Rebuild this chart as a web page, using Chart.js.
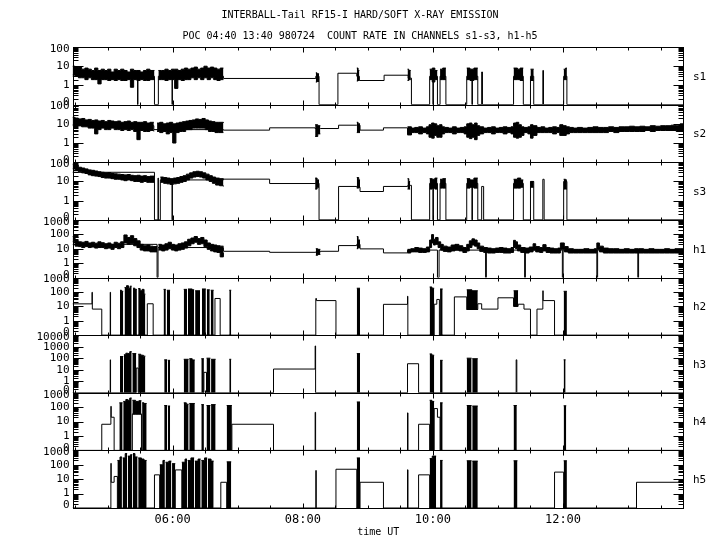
<!DOCTYPE html>
<html>
<head>
<meta charset="utf-8">
<script src="https://cdn.jsdelivr.net/npm/chart.js@4.4.0/dist/chart.umd.js"></script>
<style>
  html, body { margin: 0; padding: 0; background: #fff; }
  canvas { display: block; }
</style>
</head>
<body>
<canvas id="chart" width="720" height="550"></canvas>
<script>
const titleLine1 = 'INTERBALL-Tail RF15-I HARD/SOFT X-RAY EMISSION';
const titleLine2 = 'POC 04:40 13:40 980724  COUNT RATE IN CHANNELS s1-s3, h1-h5';
const xTitle = 'time UT';

const channels = ['s1', 's2', 's3', 'h1', 'h2', 'h3', 'h4', 'h5'];
const channelMax = [100, 100, 100, 1000, 1000, 10000, 1000, 1000];
const decadeTicks = [0.1, 1, 10, 100, 1000, 10000];
const decadeLabels = ['0', '1', '10', '100', '1000', '10000'];
const hourTicks = [6, 8, 10, 12];
const hourLabels = ['06:00', '08:00', '10:00', '12:00'];
const XMIN = 4.46, XMAX = 13.86;   // hours UT
const FLOOR = 0.1;                 // zero counts sit on the bottom of each log panel

// ---- s1 ----
const s1T = [4.46, 5.46, 5.466, 5.72, 5.78, 5.99, 5.996, 6.78, 8.20, 8.25, 8.54, 8.83, 8.87, 9.25, 9.62, 9.67, 9.95, 10.00, 10.008, 10.07, 10.11, 10.20, 10.52, 10.60, 10.608, 10.69, 10.75, 10.762, 11.24, 11.39, 11.50, 11.55, 11.69, 11.70, 12.01, 12.06, 13.86];
const s1V = [3, 0, 3, 0, 3, 0, 3, 2.3, 3, 0, 4.3, 3, 1.8, 3.4, 2.4, 0, 3, 0, 3, 0, 3, 0, 3, 0, 3, 0, 5, 0, 3, 0, 3, 0, 6, 0, 3, 0, 0];
const s1BandT = [4.46, 4.50, 4.55, 4.60, 4.65, 4.70, 4.75, 4.80, 4.85, 4.90, 4.95, 5.00, 5.05, 5.10, 5.15, 5.20, 5.25, 5.30, 5.35, 5.40, 5.45, 5.50, 5.55, 5.60, 5.65, 5.72, 5.75,
  5.78, 5.83, 5.88, 5.93, 5.98, 6.03, 6.08, 6.13, 6.18, 6.23, 6.28, 6.33, 6.38, 6.43, 6.48, 6.53, 6.58, 6.63, 6.68, 6.73, 6.78, 7.0,
  8.20, 8.22, 8.25, 8.3, 8.83, 8.85, 8.87, 8.9, 9.61, 9.63, 9.66, 9.7, 9.95, 9.99, 10.03, 10.07, 10.09, 10.11, 10.15, 10.20, 10.3,
  10.52, 10.57, 10.63, 10.69, 10.9, 11.24, 11.30, 11.34, 11.39, 11.45, 11.50, 11.55, 11.6, 12.01, 12.04, 12.06];
const s1Hi = [10, 8, 9, 7, 8, 7, 6, 8, 6, 7, 6, 7, 5, 7, 6, 7, 6, 5, 7, 6, 6, 5, 6, 7, 6, 6, null,
  6, 6, 7, 6, 7, 7, 6, 7, 8, 7, 8, 9, 7, 8, 10, 8, 9, 8, 7, 8, 8, null,
  4.5, 4, 4, null, 8, 6, 6, null, 7, 6, 6, null, 7, 8, 6, 6, null, 7, 8, 8, null,
  8, 7, 8, 8, null, 8, 7, 8, 8, null, 7, 7, null, 7, 8, 8];
const s1Lo = [3.5, 3, 2.5, 2.5, 2, 2.5, 2, 2, 1.2, 2, 2, 1.8, 2, 1.8, 2, 1.8, 1.8, 2, 0.8, 2, 1.8, 2, 1.8, 1.8, 2, 2, null,
  2, 2, 1.8, 2, 2, 0.7, 2, 1.8, 2, 2, 2.5, 2, 2.5, 2, 2.5, 2, 2.5, 2, 1.8, 2, 2, null,
  1.5, 1.6, 1.6, null, 1.7, 1.8, 1.8, null, 1.8, 2, 2, null, 2, 1.5, 2, 2, null, 2, 2, 2, null,
  2, 1.8, 2, 2, null, 2, 2, 1.8, 1.8, null, 1.8, 1.8, null, 2, 2, 2];

// ---- s2 ----
const s2T = [4.46, 5.71, 5.76, 6.78, 7.49, 8.19, 8.27, 8.55, 8.83, 8.88, 9.24, 9.61, 9.67, 13.86];
const s2V = [8, 5, 5, 4.7, 6.2, 5.7, 5.7, 8.5, 8.5, 4.7, 6.2, 2.7, 5, 5];
const s2BandT = [4.46, 4.50, 4.55, 4.60, 4.65, 4.70, 4.75, 4.80, 4.85, 4.90, 4.95, 5.00, 5.05, 5.10, 5.15, 5.20, 5.25, 5.30, 5.35, 5.40, 5.45, 5.50, 5.55, 5.60, 5.65, 5.71, 5.73,
  5.76, 5.80, 5.85, 5.90, 5.95, 6.00, 6.05, 6.10, 6.15, 6.20, 6.25, 6.30, 6.35, 6.40, 6.45, 6.50, 6.55, 6.60, 6.65, 6.70, 6.78, 7.0,
  8.19, 8.23, 8.27, 8.4, 8.83, 8.85, 8.88, 9.0,
  9.61, 9.67, 9.72, 9.78, 9.84, 9.90, 9.94, 9.98, 10.02, 10.06, 10.10, 10.14, 10.18, 10.24, 10.30, 10.36, 10.42, 10.48, 10.52, 10.56,
  10.60, 10.64, 10.68, 10.72, 10.78, 10.84, 10.90, 10.96, 11.02, 11.08, 11.14, 11.20, 11.24, 11.28, 11.32, 11.36, 11.40, 11.46, 11.50, 11.54,
  11.60, 11.66, 11.72, 11.78, 11.84, 11.90, 11.95, 12.00, 12.05, 12.10, 12.16, 12.22, 12.30, 12.38, 12.46, 12.54, 12.62, 12.70, 12.78, 12.86,
  12.94, 13.02, 13.10, 13.18, 13.26, 13.34, 13.42, 13.50, 13.58, 13.66, 13.74, 13.80, 13.86];
const s2Hi = [22, 20, 18, 19, 16, 17, 15, 16, 14, 15, 13, 15, 14, 13, 14, 12, 13, 14, 12, 13, 12, 12, 13, 11, 12, 12, null,
  11, 12, 10, 11, 12, 10, 11, 12, 13, 14, 15, 16, 18, 17, 19, 16, 14, 13, 12, 12, 11, null,
  9, 8, 8, null, 12, 10, 10, null,
  7, 6, 6.5, 7, 6, 7, 9, 11, 10, 8, 9, 7, 6.5, 6, 7, 6, 6.5, 7, 10, 11,
  9, 11, 8, 7, 6, 6.5, 7, 6, 6.5, 7, 6.5, 7, 11, 12, 9, 7, 6.5, 7, 9, 8,
  6.5, 7, 6, 6.5, 7, 6.5, 9, 8, 7, 6.5, 6, 6.5, 6, 6.5, 7, 6.5, 6.5, 7, 6.5, 7,
  7, 7.5, 7, 7.5, 7, 8, 7.5, 8, 8, 8.5, 8, 10, 9];
const s2Lo = [9, 8, 8, 7, 7, 6, 6, 3, 5, 6, 5, 5, 6, 5, 5, 4.5, 5, 4.5, 5, 4, 1.5, 4.5, 4, 4, 4.5, 4, null,
  4, 3.5, 4, 3, 3.5, 1.0, 3.5, 4, 4, 5, 5, 6, 6, 6, 6, 5, 4, 4, 3.5, 3.5, 3.5, null,
  2.2, 3, 3, null, 3.5, 3.5, 3.5, null,
  2.7, 3.5, 3.5, 3, 3.5, 3, 2, 1.8, 2.5, 2, 2, 3, 3.5, 3.5, 3, 3.5, 3.5, 3, 2, 1.7,
  2, 1.5, 2.5, 3, 3.5, 3.5, 3, 3.5, 3.5, 3, 3.5, 3, 2, 1.8, 2, 2.5, 3.5, 3, 1.8, 2.5,
  3.5, 3.5, 3.5, 3.5, 3, 3.5, 2.5, 2.5, 3, 3.5, 3.5, 3.5, 3.5, 3.5, 3.5, 3.5, 3.5, 4, 3.5, 4,
  4, 4, 4, 4, 4.5, 4, 4.5, 4.5, 4.5, 4.5, 4, 4, 4];

// ---- s3 ----
const s3T = [4.46, 5.72, 5.775, 5.78, 5.81, 5.99, 5.996, 6.78, 7.49, 8.19, 8.25, 8.55, 8.83, 8.88, 9.24, 9.61, 9.65, 9.67, 9.95, 10.00, 10.008, 10.07, 10.11, 10.20, 10.52, 10.60, 10.608, 10.69, 10.75, 10.78, 11.24, 11.39, 11.50, 11.55, 11.69, 11.71, 12.01, 12.06, 13.86];
const s3V = [30, 0, 15, 0, 12, 0, 12, 13.2, 7.8, 8, 0, 5.5, 5, 3.0, 5.5, 6, 6.3, 0, 8, 0, 8, 0, 8, 0, 8, 0, 8, 0, 5.5, 0, 8, 0, 10, 0, 13, 0, 10, 0, 0];
const s3BandT = [4.46, 4.50, 4.55, 4.60, 4.65, 4.70, 4.75, 4.80, 4.85, 4.90, 4.95, 5.00, 5.05, 5.10, 5.15, 5.20, 5.25, 5.30, 5.35, 5.40, 5.45, 5.50, 5.55, 5.60, 5.65, 5.72, 5.75,
  5.81, 5.86, 5.91, 5.96, 6.01, 6.06, 6.11, 6.16, 6.21, 6.26, 6.31, 6.36, 6.41, 6.46, 6.51, 6.56, 6.61, 6.66, 6.72, 6.78, 7.0,
  8.19, 8.22, 8.25, 8.4, 8.83, 8.86, 8.88, 9.0, 9.61, 9.63, 9.65, 9.8, 9.95, 9.99, 10.03, 10.07, 10.09, 10.11, 10.15, 10.20, 10.3,
  10.52, 10.57, 10.63, 10.69, 10.9, 11.24, 11.30, 11.35, 11.39, 11.45, 11.50, 11.55, 11.6, 12.01, 12.04, 12.06];
const s3Hi = [80, 70, 55, 50, 45, 40, 38, 35, 32, 30, 28, 29, 26, 25, 24, 23, 22, 23, 21, 20, 21, 19, 20, 18, 19, 18, null,
  17, 16, 15, 14, 15, 16, 18, 20, 24, 28, 32, 34, 32, 28, 24, 20, 17, 15, 14, 13, null,
  15, 12, 12, null, 16, 12, 12, null, 14, 10, 10, null, 14, 13, 15, 15, null, 13, 14, 14, null,
  14, 12, 15, 15, null, 13, 15, 12, 12, null, 10, 10, null, 13, 12, 12];
const s3Lo = [45, 40, 32, 28, 26, 22, 20, 19, 18, 16, 15, 15, 14, 13, 13, 12, 11, 12, 11, 10, 10, 9, 10, 9, 9, 9, null,
  9, 8, 7.5, 7, 7.5, 8, 9, 10, 12, 15, 17, 18, 17, 15, 12, 10, 8, 6.5, 6, 5.5, null,
  4, 5, 5, null, 4.5, 5, 5, null, 4, 4, 4, null, 4, 4.5, 4, 4, null, 4.5, 4.5, 4.5, null,
  4.5, 5, 4.5, 4.5, null, 4.5, 4.5, 5, 5, null, 5, 5, null, 4, 4, 4];

// ---- h1 ----
const h1T = [4.46, 5.76, 5.775, 6.78, 7.49, 8.20, 8.27, 8.55, 8.83, 8.88, 9.24, 9.61, 10.07, 10.095, 10.81, 10.822, 11.41, 11.422, 11.99, 12.002, 12.52, 12.532, 13.15, 13.162, 13.86];
const h1V = [20, 0, 12, 6.6, 5.6, 6, 6.6, 16.4, 20, 9.7, 5.1, 8, 0, 8, 0, 8, 0, 8, 0, 8, 0, 8, 0, 8, 8];
const h1BandT = [4.46, 4.50, 4.55, 4.60, 4.65, 4.70, 4.75, 4.80, 4.85, 4.90, 4.95, 5.00, 5.05, 5.10, 5.15, 5.20, 5.25, 5.30, 5.35, 5.40, 5.45, 5.50, 5.55, 5.60, 5.65, 5.70, 5.76, 5.77,
  5.78, 5.83, 5.88, 5.93, 5.98, 6.03, 6.08, 6.13, 6.18, 6.23, 6.28, 6.33, 6.38, 6.43, 6.48, 6.53, 6.58, 6.63, 6.68, 6.73, 6.78, 7.0,
  8.20, 8.23, 8.27, 8.4, 8.83, 8.85, 8.88, 9.0,
  9.61, 9.66, 9.72, 9.78, 9.84, 9.90, 9.95, 9.98, 10.01, 10.04, 10.08, 10.12, 10.16, 10.22, 10.28, 10.34, 10.40, 10.46, 10.52, 10.56,
  10.60, 10.64, 10.68, 10.72, 10.78, 10.84, 10.90, 10.96, 11.02, 11.08, 11.14, 11.20, 11.24, 11.27, 11.30, 11.35, 11.42, 11.48, 11.54, 11.58,
  11.64, 11.69, 11.74, 11.80, 11.86, 11.92, 11.96, 12.02, 12.08, 12.16, 12.24, 12.32, 12.40, 12.48, 12.52, 12.56, 12.62, 12.70, 12.78, 12.86,
  12.94, 13.02, 13.10, 13.16, 13.24, 13.32, 13.40, 13.48, 13.56, 13.64, 13.72, 13.80, 13.86];
const h1Hi = [70, 35, 30, 28, 32, 25, 28, 24, 30, 26, 22, 25, 20, 28, 24, 30, 90, 60, 80, 50, 35, 20, 16, 18, 15, 14, 16, null,
  20, 18, 22, 28, 20, 18, 22, 25, 30, 45, 55, 70, 50, 60, 40, 25, 20, 18, 16, 15, 14, null,
  10, 9, 9, null, 70, 40, 40, null,
  9, 10, 12, 11, 10, 13, 40, 95, 45, 60, 30, 20, 15, 13, 18, 20, 16, 12, 20, 35,
  48, 40, 25, 15, 12, 11, 10, 11, 12, 11, 10, 12, 38, 30, 18, 12, 11, 13, 22, 14,
  12, 19, 12, 11, 10, 11, 25, 14, 10, 9, 9, 10, 9, 10, 25, 15, 11, 10, 10, 9,
  10, 9, 10, 10, 9, 10, 9, 9, 10, 9, 10, 10, 10];
const h1Lo = [30, 15, 14, 12, 14, 12, 13, 11, 12, 12, 10, 11, 9, 12, 10, 12, 25, 20, 22, 16, 12, 8, 7, 7, 6, 6, 6, null,
  8, 7, 8, 10, 8, 7, 8, 9, 11, 16, 22, 28, 20, 22, 14, 9, 7, 6, 5.5, 2.7, 5.5, null,
  3.5, 4, 4, null, 10, 12, 12, null,
  5, 6, 6, 5.5, 5.5, 6, 12, 25, 18, 20, 12, 8, 6.5, 6, 7, 8, 7, 5.5, 7, 12,
  18, 15, 10, 6.5, 5.5, 5, 5, 5.5, 5.5, 5, 5, 5.5, 12, 10, 7, 5.5, 5, 6, 8, 6,
  5.5, 7, 5.5, 5, 5, 5, 9, 6, 5, 5, 5, 5, 5, 5, 9, 6, 5, 5, 5, 5,
  5, 5, 5, 5, 5, 5, 5, 5, 5, 5, 5, 5, 5];

// ---- h2 ----
const h2T = [4.46, 4.76, 4.765, 4.91, 5.04, 5.045, 5.61, 5.70, 6.65, 6.73, 8.20, 8.21, 8.51, 9.24, 9.61, 9.615, 10.02, 10.06, 10.10, 10.33, 10.52, 10.69, 10.75, 11.00, 11.24, 11.31, 11.40, 11.50, 11.60, 11.69, 11.695, 11.87, 13.86];
const h2V = [14.8, 94, 6.4, 0, 94, 0, 15, 0, 35, 0, 35, 25, 0, 13.7, 50, 0, 14, 30, 0, 45, 6, 15, 6.4, 39, 10, 14, 6.4, 0, 6.4, 120, 25, 0, 0];
const h2BandT = [5.19, 5.215, 5.24, 5.245, 5.26, 5.29, 5.32, 5.345, 5.37, 5.375, 5.39, 5.42, 5.45, 5.455, 5.47, 5.50, 5.53, 5.56, 5.58, 5.59,
  5.86, 5.895, 5.9, 5.91, 5.96, 6.0, 6.17, 6.22, 6.225, 6.235, 6.30, 6.33, 6.335, 6.345, 6.42, 6.43, 6.45, 6.51, 6.515, 6.525, 6.57, 6.575, 6.585, 6.63, 6.7,
  6.87, 6.90, 7.0, 8.83, 8.88, 9.0, 9.95, 9.985, 10.02, 10.05, 10.11, 10.15, 10.2, 10.52, 10.60, 10.69, 10.7, 11.24, 11.31, 11.35, 12.01, 12.06];
const h2Hi = [130, 110, 110, null, 200, 270, 180, 250, 250, null, 180, 150, 150, null, 170, 120, 150, 70, 70, null,
  150, 150, null, 130, 130, null, 150, 150, null, 160, 140, 140, null, 120, 120, null, 160, 160, null, 140, 140, null, 130, 130, null,
  130, 130, null, 180, 180, null, 220, 180, 180, null, 160, 160, null, 140, 120, 120, null, 120, 120, null, 110, 110];
const h2Lo = [0, 0, 0, null, 0, 0, 0, 0, 0, null, 0, 0, 0, null, 0, 0, 0, 0, 0, null,
  0, 0, null, 0, 0, null, 0, 0, null, 0, 0, 0, null, 0, 0, null, 0, 0, null, 0, 0, null, 0, 0, null,
  0, 0, null, 0, 0, null, 0, 0, 0, null, 0, 0, null, 6, 6, 6, null, 10, 10, null, 0, 0];

// ---- h3 ----
const h3T = [4.46, 5.04, 5.045, 5.44, 5.47, 6.48, 6.52, 7.55, 8.19, 8.197, 9.61, 9.78, 11.28, 11.29, 13.86];
const h3V = [0, 72, 0, 14, 0, 5.9, 0, 11.4, 1150, 0, 33, 0, 72, 0, 0];
const h3BandT = [5.19, 5.24, 5.245, 5.25, 5.28, 5.31, 5.34, 5.37, 5.375, 5.38, 5.44, 5.45, 5.47, 5.51, 5.55, 5.58, 5.6,
  5.87, 5.915, 5.92, 5.925, 5.96, 6.0, 6.17, 6.245, 6.25, 6.255, 6.30, 6.34, 6.4, 6.44, 6.48, 6.5, 6.52, 6.58, 6.585, 6.59, 6.66, 6.7,
  6.87, 6.90, 7.0, 8.83, 8.88, 9.0, 9.95, 9.985, 10.02, 10.05, 10.11, 10.15, 10.3, 10.52, 10.595, 10.6, 10.605, 10.69, 10.8, 12.01, 12.04];
const h3Hi = [140, 140, null, 200, 270, 250, 370, 370, null, 250, 250, null, 220, 180, 150, 150, null,
  72, 72, null, 65, 65, null, 80, 80, null, 90, 70, 70, null, 90, 90, null, 100, 100, null, 80, 80, null,
  80, 80, null, 250, 250, null, 235, 180, 180, null, 65, 65, null, 100, 100, null, 90, 90, null, 72, 72];

// ---- h4 ----
const h4T = [4.46, 4.91, 5.05, 5.055, 5.10, 5.38, 5.52, 6.91, 7.55, 8.19, 8.197, 9.61, 9.617, 9.78, 9.95, 10.02, 10.07, 10.11, 13.86];
const h4V = [0, 6.5, 114, 20, 0, 33, 0, 6.5, 0, 44, 0, 40, 0, 6.5, 0, 80, 20, 0, 0];
const h4BandT = [5.18, 5.23, 5.235, 5.24, 5.28, 5.31, 5.34, 5.37, 5.375, 5.38, 5.43, 5.48, 5.52, 5.525, 5.53, 5.56, 5.60, 5.7,
  5.87, 5.915, 5.92, 5.925, 5.96, 6.0, 6.17, 6.21, 6.245, 6.25, 6.255, 6.34, 6.4, 6.44, 6.48, 6.5, 6.52, 6.58, 6.585, 6.59, 6.66, 6.7,
  6.83, 6.91, 7.0, 8.83, 8.88, 9.0, 9.95, 9.985, 10.02, 10.05, 10.11, 10.15, 10.3, 10.52, 10.595, 10.6, 10.605, 10.69, 10.8, 11.24, 11.29, 11.35, 12.01, 12.05];
const h4Hi = [200, 200, null, 250, 340, 300, 430, 430, null, 300, 250, 280, 280, null, 200, 180, 180, null,
  130, 130, null, 120, 120, null, 200, 160, 160, null, 180, 180, null, 150, 150, null, 130, 130, null, 150, 150, null,
  130, 130, null, 230, 230, null, 300, 250, 250, null, 200, 200, null, 130, 130, null, 120, 120, null, 130, 130, null, 125, 125];
const h4Lo = [0, 0, null, 0, 0, 0, 0, 0, null, 33, 33, 33, 33, null, 0, 0, 0, null,
  0, 0, null, 0, 0, null, 0, 0, 0, null, 0, 0, null, 0, 0, null, 0, 0, null, 0, 0, null,
  0, 0, null, 0, 0, null, 0, 0, 0, null, 0, 0, null, 0, 0, null, 0, 0, null, 0, 0, null, 0, 0];

// ---- h5 ----
const h5T = [4.46, 5.05, 5.055, 5.10, 5.15, 5.60, 5.72, 5.80, 6.04, 6.14, 6.63, 6.74, 6.83, 8.20, 8.207, 8.51, 8.83, 8.88, 9.24, 9.61, 9.617, 9.78, 9.95, 11.87, 12.01, 13.13, 13.86];
const h5V = [0, 125, 6.1, 15.5, 0, 0, 20, 0, 44, 0, 0, 6.1, 0, 40, 0, 49, 0, 6.1, 0, 45, 0, 20, 0, 31, 0, 6.1, 6.1];
const h5BandT = [5.15, 5.19, 5.22, 5.225, 5.23, 5.27, 5.30, 5.305, 5.31, 5.35, 5.38, 5.385, 5.39, 5.42, 5.46, 5.465, 5.47, 5.52, 5.56, 5.60, 5.65,
  5.80, 5.85, 5.88, 5.885, 5.89, 5.94, 5.98, 5.985, 5.99, 6.04, 6.1,
  6.14, 6.19, 6.22, 6.225, 6.23, 6.28, 6.33, 6.335, 6.34, 6.39, 6.43, 6.435, 6.44, 6.49, 6.53, 6.535, 6.54, 6.59, 6.63, 6.7,
  6.83, 6.90, 7.0, 8.83, 8.88, 9.0, 9.95, 9.99, 10.05, 10.08, 10.11, 10.15, 10.3, 10.52, 10.595, 10.6, 10.605, 10.69, 10.8, 11.24, 11.30, 11.4, 12.01, 12.06];
const h5Hi = [200, 350, 350, null, 300, 600, 600, null, 400, 500, 500, null, 600, 350, 350, null, 300, 250, 200, 200, null,
  100, 200, 200, null, 150, 180, 180, null, 120, 120, null,
  150, 250, 250, null, 200, 300, 300, null, 180, 250, 250, null, 200, 300, 300, null, 250, 180, 180, null,
  160, 160, null, 300, 300, null, 270, 400, 400, null, 200, 200, null, 190, 190, null, 180, 180, null, 190, 190, null, 190, 190];

const traces = { s1: [s1T, s1V], s2: [s2T, s2V], s3: [s3T, s3V], h1: [h1T, h1V],
                 h2: [h2T, h2V], h3: [h3T, h3V], h4: [h4T, h4V], h5: [h5T, h5V] };
// noisy stretches: envelope from hi down to lo (no lo = down to the panel floor)
const bands = { s1: [s1BandT, s1Hi, s1Lo], s2: [s2BandT, s2Hi, s2Lo], s3: [s3BandT, s3Hi, s3Lo], h1: [h1BandT, h1Hi, h1Lo],
                h2: [h2BandT, h2Hi, h2Lo], h3: [h3BandT, h3Hi], h4: [h4BandT, h4Hi, h4Lo], h5: [h5BandT, h5Hi] };

function points(t, v) {
  return t.map((x, i) => ({ x: x, y: v[i] === null ? null : Math.max(v[i], FLOOR) }));
}

const lineStyle = { borderColor: '#000', backgroundColor: '#000', borderWidth: 1, pointRadius: 0, stepped: true, spanGaps: false };
const datasets = [];
channels.forEach(ch => {
  const [bt, hi, lo] = bands[ch];
  datasets.push(Object.assign({ data: points(bt, hi), yAxisID: ch, fill: lo ? '+1' : 'start' }, lineStyle));
  if (lo) datasets.push(Object.assign({ data: points(bt, lo), yAxisID: ch, fill: false }, lineStyle));
  const [t, v] = traces[ch];
  datasets.push(Object.assign({ data: points(t, v), yAxisID: ch, fill: false }, lineStyle));
});

const monoFont = 'DejaVu Sans Mono';
const scales = {
  x: {
    type: 'linear', position: 'bottom', min: XMIN, max: XMAX,
    grid: { display: false, drawTicks: false },
    border: { display: false },
    ticks: {
      stepSize: 0.5, includeBounds: false, autoSkip: false, maxRotation: 0, padding: 5,
      color: '#000', font: { family: monoFont, size: 12 },
      callback: v => { const i = hourTicks.indexOf(v); return i < 0 ? '' : hourLabels[i]; }
    },
    title: { display: true, text: xTitle, color: '#000', font: { family: monoFont, size: 10 }, padding: { top: 0, bottom: 12 } },
    afterFit: s => { s.height = 42; }
  }
};
channels.forEach((ch, i) => {
  scales[ch] = {
    type: 'logarithmic', axis: 'y', position: 'left',
    stack: 'panels', stackWeight: 1, weight: channels.length - i,
    min: FLOOR, max: channelMax[i],
    ticks: { display: false },
    grid: { display: false, drawTicks: false },
    border: { display: false },
    afterFit: s => { s.width = 72.5; }
  };
});

// frames, inward ticks, decade labels, titles and channel names
const panelDecor = {
  id: 'panelDecor',
  afterDraw(chart) {
    const ctx = chart.ctx;
    const area = chart.chartArea;
    const xs = chart.scales.x;
    const L = Math.round(area.left) + 0.5;
    const R = Math.round(area.right) - 0.5;
    ctx.save();
    ctx.fillStyle = '#000';
    ctx.strokeStyle = '#000';
    ctx.lineWidth = 1;

    ctx.font = '10px "' + monoFont + '"';
    ctx.textAlign = 'center';
    ctx.textBaseline = 'middle';
    ctx.fillText(titleLine1, 360, 15);
    ctx.fillText(titleLine2, 360, 36);

    const xt = xs.ticks.map(t => t.value).filter(v => v > xs.min && v < xs.max);

    channels.forEach(ch => {
      const s = chart.scales[ch];
      const top = Math.round(s.top) + 0.5;
      const bot = Math.round(s.bottom) + 0.5;
      ctx.strokeRect(L, top, R - L, bot - top);

      ctx.beginPath();
      xt.forEach(v => {
        const x = Math.round(xs.getPixelForValue(v)) + 0.5;
        const len = v % 2 === 0 ? 5 : 3;
        ctx.moveTo(x, top); ctx.lineTo(x, top + len);
        ctx.moveTo(x, bot); ctx.lineTo(x, bot - len);
      });
      decadeTicks.forEach(d => {
        if (d > s.max) return;
        const y = Math.round(s.getPixelForValue(d)) + 0.5;
        ctx.moveTo(L, y); ctx.lineTo(L + 10, y);
        ctx.moveTo(R, y); ctx.lineTo(R - 10, y);
        for (let k = 2; k < 10; k++) {
          if (k * d >= s.max) break;
          const ym = Math.round(s.getPixelForValue(k * d)) + 0.5;
          ctx.moveTo(L, ym); ctx.lineTo(L + 5, ym);
          ctx.moveTo(R, ym); ctx.lineTo(R - 5, ym);
        }
      });
      ctx.stroke();

      ctx.font = '11px "' + monoFont + '"';
      ctx.textAlign = 'right';
      decadeTicks.forEach((d, j) => {
        if (d > s.max) return;
        const y = Math.min(Math.max(s.getPixelForValue(d), s.top + 2), s.bottom - 2.5);
        ctx.fillText(decadeLabels[j], area.left - 3, y);
      });
      ctx.textAlign = 'left';
      ctx.fillText(ch, 693, (s.top + s.bottom) / 2 + 1);
    });
    ctx.restore();
  }
};

new Chart(document.getElementById('chart'), {
  type: 'line',
  data: { datasets: datasets },
  options: {
    responsive: false,
    animation: false,
    devicePixelRatio: 1,
    events: [],
    layout: { padding: { top: 47, right: 36, bottom: 0, left: 0 } },
    plugins: { legend: { display: false }, tooltip: { enabled: false }, title: { display: false }, colors: { enabled: false } },
    scales: scales
  },
  plugins: [panelDecor]
});
</script>
</body>
</html>
